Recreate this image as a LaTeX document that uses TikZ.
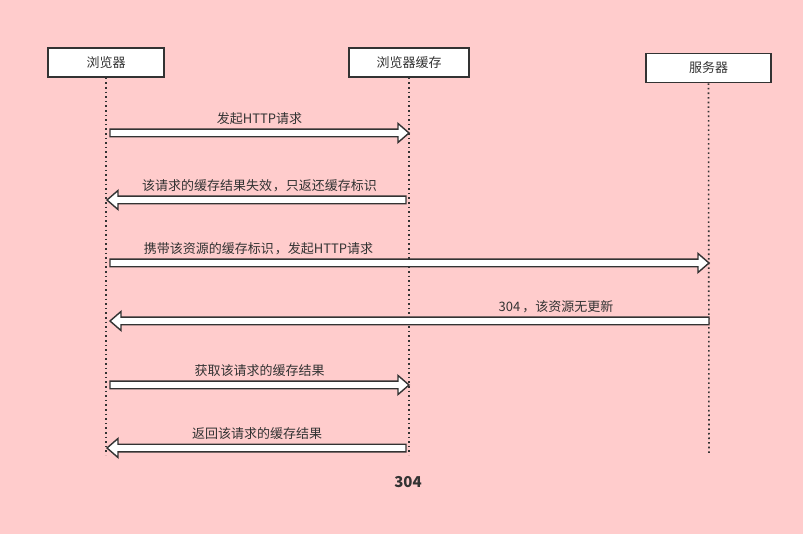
\documentclass[tikz,border=0pt]{standalone}
\usepackage{fontspec}
\setmainfont{Noto Sans CJK SC}
\usetikzlibrary{calc}
\definecolor{bg}{HTML}{FFCCCC}
\definecolor{ink}{HTML}{333333}
\tikzset{
  actor/.style={draw=ink, line width=1.6pt, fill=white, minimum height=29pt, inner sep=0pt, font=\fontsize{13}{15}\selectfont, text=ink},
  life/.style={draw=ink, line width=1.6pt, dash pattern=on 1.6pt off 3pt},
  arr/.style={draw=ink, fill=white, line width=1.4pt, line join=miter},
  lbl/.style={font=\fontsize{13}{15}\selectfont, text=ink, inner sep=0pt}
}
\newcommand\barrow[2]{\path[arr] let \p1=(#1), \p2=(#2), \n1={sign(\x2-\x1)} in
  (\x1,\y1+3.8pt) -- (\x2-\n1*11pt,\y1+3.8pt) -- (\x2-\n1*11pt,\y1+9.5pt) -- (\x2,\y1) --
  (\x2-\n1*11pt,\y1-9.5pt) -- (\x2-\n1*11pt,\y1-3.8pt) -- (\x1,\y1-3.8pt) -- cycle;}
\begin{document}
\begin{tikzpicture}[x=1pt,y=-1pt]
\fill[bg] (0,0) rectangle (803,534);
\useasboundingbox (0,0) rectangle (803,534);
% actors
\node[actor, minimum width=116pt] (B) at (106,62.5) {浏览器};
\node[actor, minimum width=120pt] (C) at (409,62.5) {浏览器缓存};
\node[actor, minimum width=125pt] (S) at (708.5,68) {服务器};
% lifeline ends
\coordinate (Bend) at (106,455);
\coordinate (Cend) at (409,455);
\coordinate (Send) at (709,455);
\draw[life] (B.south) -- (Bend);
\draw[life] (C.south) -- (Cend);
\draw[life] (S.south) -- (Send);
% message points
\coordinate (a1s) at (110,133); \coordinate (a1e) at (409,133);
\coordinate (a2s) at (406,200); \coordinate (a2e) at (107,200);
\coordinate (a3s) at (110,263); \coordinate (a3e) at (709,263);
\coordinate (a4s) at (709,321); \coordinate (a4e) at (110,321);
\coordinate (a5s) at (110,385); \coordinate (a5e) at (409,385);
\coordinate (a6s) at (406,448); \coordinate (a6e) at (107,448);
\barrow{a1s}{a1e}
\barrow{a2s}{a2e}
\barrow{a3s}{a3e}
\barrow{a4s}{a4e}
\barrow{a5s}{a5e}
\barrow{a6s}{a6e}
% labels
\node[lbl] (l1) at (259.5,119) {发起HTTP请求};
\node[lbl] (l2) at (259.5,186) {该请求的缓存结果失效\kern1pt，只返还缓存标识};
\node[lbl] (l3) at (258.5,249) {携带该资源的缓存标识\kern1pt，发起HTTP请求};
\node[lbl] (l4) at (556,307) {304\kern2pt，该资源无更新};
\node[lbl] (l5) at (259.5,371) {获取该请求的缓存结果};
\node[lbl] (l6) at (257,434) {返回该请求的缓存结果};
\node[lbl, font=\fontsize{15}{17}\selectfont\bfseries] (t) at (408,482) {304};
\end{tikzpicture}
\end{document}
